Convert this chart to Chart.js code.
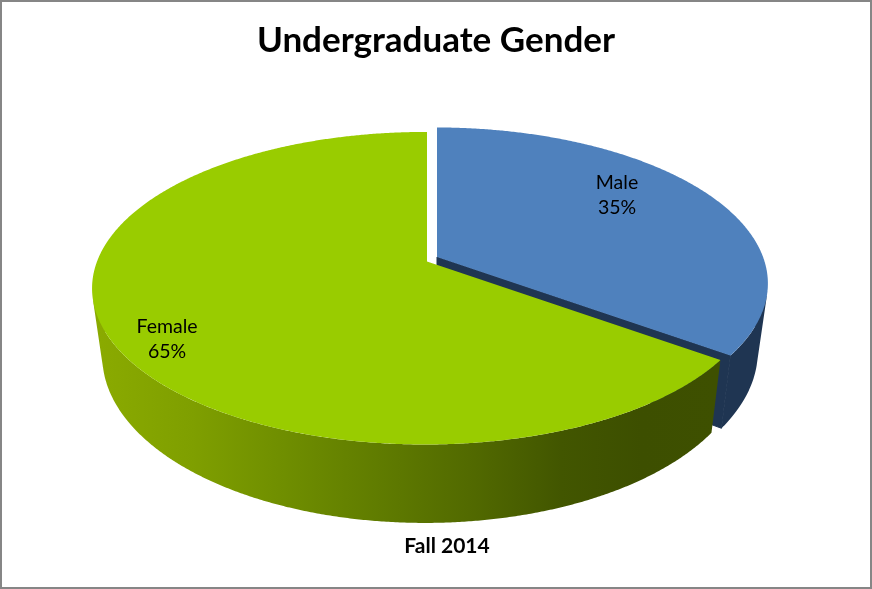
<!DOCTYPE html>
<html>
<head>
<meta charset="utf-8">
<style>html,body{margin:0;padding:0;background:#fff}canvas{display:block}</style>
<script src="https://cdn.jsdelivr.net/npm/chart.js@4/dist/chart.umd.min.js"></script>
</head>
<body>
<canvas id="c" width="872" height="589"></canvas>
<script>
const categories = ['Male', 'Female'];
const values = [35, 65];
const percentLabels = ['35%', '65%'];
const chartTitle = 'Undergraduate Gender';
const caption = 'Fall 2014';
const topColors = ['#4f81bd', '#99cc00'];

// Perspective model of the tilted pie: angles come from the library's arc elements.
const k = 0.171, kx = 0.006;
const topFace = { R: 328, H: 151.7, dy: 0 };
const lowFace = { R: 318, H: 162, dy: 66 };
const apex = [{ x: 437, y: 257 }, { x: 427, y: 261.5 }];
const labelPos = [{ x: 617, y: 183 }, { x: 167, y: 327 }];
const rimLimit = 0.25;

function pt(i, face, a) {
  const u = Math.cos(a), v = -Math.sin(a), w = 1 + k * v + kx * u;
  return { x: apex[i].x + face.R * u / w, y: apex[i].y + face.dy - face.H * v / w };
}
function arcAngles(s, e) {
  const n = Math.max(2, Math.ceil((e - s) / 0.006)), out = [];
  for (let j = 0; j <= n; j++) out.push(s + (e - s) * j / n);
  return out;
}
// Outer wall: union of equally oriented quads, filled as one path so there are no seams.
function wall(ctx, i, arc, fill) {
  const norm = a => Math.atan2(Math.sin(a), Math.cos(a));
  let s = norm(arc.startAngle), e = s + (arc.endAngle - arc.startAngle);
  s = Math.max(s, -0.4);
  e = Math.min(e, Math.PI + 0.4);
  const clampTop = a => Math.min(Math.max(a, rimLimit), Math.PI - rimLimit);
  const as = arcAngles(s, e);
  ctx.beginPath();
  for (let j = 0; j < as.length - 1; j++) {
    const q = [pt(i, topFace, clampTop(as[j])), pt(i, topFace, clampTop(as[j + 1])),
               pt(i, lowFace, as[j + 1]), pt(i, lowFace, as[j])];
    let area = 0;
    q.forEach((p, m) => { const r = q[(m + 1) % 4]; area += p.x * r.y - r.x * p.y; });
    if (area < 0) q.reverse();
    q.forEach((p, m) => m ? ctx.lineTo(p.x, p.y) : ctx.moveTo(p.x, p.y));
    ctx.closePath();
  }
  ctx.fillStyle = fill; ctx.fill('nonzero');
}
function topSlice(ctx, i, arc, fill) {
  ctx.beginPath();
  ctx.moveTo(apex[i].x, apex[i].y);
  for (const a of arcAngles(arc.startAngle, arc.endAngle)) {
    const p = pt(i, topFace, a);
    ctx.lineTo(p.x, p.y);
  }
  ctx.closePath();
  ctx.fillStyle = fill; ctx.fill();
}

const pie3d = {
  id: 'pie3d',
  beforeDraw(chart) {
    const ctx = chart.ctx;
    ctx.save();
    ctx.fillStyle = '#fff'; ctx.fillRect(0, 0, chart.width, chart.height);
    ctx.strokeStyle = '#868686'; ctx.lineWidth = 2;
    ctx.strokeRect(1, 1, chart.width - 2, chart.height - 2);
    ctx.restore();
  },
  afterLayout(chart) {
    chart.boxes.forEach(b => {
      if (b.options && b.options.text === caption) { b.left += 22; }
    });
  },
  beforeDatasetDraw(chart, args) {
    const ctx = chart.ctx;
    const arcs = chart.getDatasetMeta(args.index).data;
    ctx.save();
    const navy = '#1f3552';
    // male wall
    wall(ctx, 0, arcs[0], navy);
    // male radial cut face, stroked to close the seam with the wall
    const tipT = pt(0, topFace, arcs[0].endAngle), tipL = pt(0, lowFace, arcs[0].endAngle);
    ctx.beginPath();
    ctx.moveTo(apex[0].x, apex[0].y); ctx.lineTo(tipT.x, tipT.y); ctx.lineTo(tipL.x, tipL.y);
    ctx.lineTo(apex[0].x, apex[0].y + lowFace.dy); ctx.closePath();
    ctx.fillStyle = navy; ctx.fill();
    ctx.strokeStyle = navy; ctx.lineWidth = 1; ctx.stroke();
    // female wall with a horizontal shading
    const g = ctx.createLinearGradient(100, 0, 715, 0);
    [[0, '#8aaa00'], [0.15, '#7f9f00'], [0.3, '#6f8e00'], [0.45, '#607c00'],
     [0.6, '#526a00'], [0.75, '#425600'], [0.88, '#3d4f00'], [1, '#3e5000']]
      .forEach(s => g.addColorStop(s[0], s[1]));
    wall(ctx, 1, arcs[1], g);
    // top faces
    topSlice(ctx, 1, arcs[1], topColors[1]);
    topSlice(ctx, 0, arcs[0], topColors[0]);
    // labels
    ctx.fillStyle = '#000'; ctx.textAlign = 'center'; ctx.textBaseline = 'middle';
    ctx.font = '19.5px Lato, Carlito, sans-serif';
    categories.forEach((c, i) => {
      ctx.fillText(c, labelPos[i].x, labelPos[i].y);
      ctx.fillText(percentLabels[i], labelPos[i].x, labelPos[i].y + 25);
    });
    ctx.restore();
    return false;
  }
};

new Chart(document.getElementById('c'), {
  type: 'pie',
  data: { labels: categories, datasets: [{ data: values, backgroundColor: topColors, borderWidth: 0 }] },
  options: {
    responsive: false,
    animation: false,
    layout: { padding: 0 },
    plugins: {
      legend: { display: false },
      tooltip: { enabled: false },
      title: { display: true, text: chartTitle, color: '#000',
               font: { family: 'Lato', size: 35, weight: 'bold' }, padding: { top: 20, bottom: 0 } },
      subtitle: { display: true, position: 'bottom', text: caption, color: '#000',
               font: { family: 'Lato', size: 21, weight: 'bold' }, padding: { top: 0, bottom: 30 } }
    }
  },
  plugins: [pie3d]
});
</script>
</body>
</html>
